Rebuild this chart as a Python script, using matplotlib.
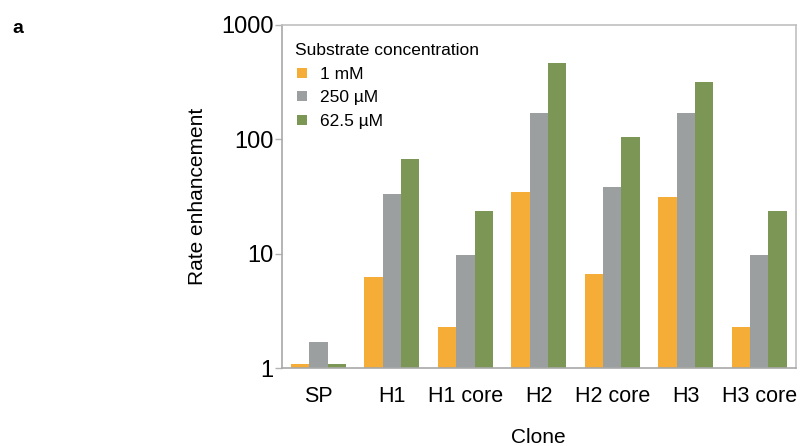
import numpy as np
import matplotlib.pyplot as plt
from matplotlib.lines import Line2D
from matplotlib.ticker import FixedLocator, NullLocator, FixedFormatter

plt.rcParams['font.family'] = ['Liberation Sans', 'DejaVu Sans']

clones = ['SP', 'H1', 'H1 core', 'H2', 'H2 core', 'H3', 'H3 core']
conc_1mM = [1.09, 6.3, 2.28, 35.0, 6.7, 31.4, 2.28]
conc_250uM = [1.69, 33.4, 9.7, 171, 38.5, 170, 9.7]
conc_62uM = [1.09, 67.6, 23.9, 464, 105, 316, 23.9]
series_labels = ['1 mM', '250 \u00b5M', '62.5 \u00b5M']
colors = ['#F5AD38', '#9C9FA0', '#7C9755']

fig = plt.figure(figsize=(8, 4.46), dpi=100)
ax = fig.add_axes([0.352, 0.1742, 0.643, 0.7698])

x = np.arange(len(clones))
w = 0.25
for i, vals in enumerate([conc_1mM, conc_250uM, conc_62uM]):
    ax.bar(x + (i - 1) * w, vals, width=w, color=colors[i], linewidth=0, zorder=2)

ax.set_yscale('log')
ax.set_ylim(1, 1000)
ax.set_xlim(-0.5, len(clones) - 0.5)
ax.yaxis.set_major_locator(FixedLocator([1, 10, 100, 1000]))
ax.yaxis.set_major_formatter(FixedFormatter(['1', '10', '100', '1000']))
ax.yaxis.set_minor_locator(NullLocator())
ax.set_xticks(x)
ax.set_xticklabels(clones, fontsize=15.5)
ax.tick_params(axis='x', length=0, pad=13)
ax.tick_params(axis='y', labelsize=17, length=5, width=1, color='#b3b3b3', pad=1)

for s in ax.spines.values():
    s.set_color('#c0c0c0')
    s.set_linewidth(1.2)
ax.spines['left'].set_color('#a8a8a8')
ax.spines['bottom'].set_color('#a8a8a8')

ax.set_ylabel('Rate enhancement', fontsize=15)
ax.yaxis.set_label_coords(-0.145, 0.5)
ax.set_xlabel('Clone', fontsize=15)
ax.xaxis.set_label_coords(0.5, -0.175)

handles = [Line2D([], [], marker='s', linestyle='none', markersize=7,
                  markerfacecolor=c, markeredgewidth=0) for c in colors]
leg = ax.legend(handles, series_labels, title='Substrate concentration',
                loc='upper left', bbox_to_anchor=(0.027, 0.948), frameon=False,
                fontsize=12.5, title_fontsize=12.5, alignment='left',
                handlelength=0.8, handletextpad=0.6, labelspacing=0.5,
                borderpad=0, borderaxespad=0)

fig.text(0.016, 0.935, 'a', fontsize=14, fontweight='bold', va='center')

fig.savefig('out.png', dpi=100)
